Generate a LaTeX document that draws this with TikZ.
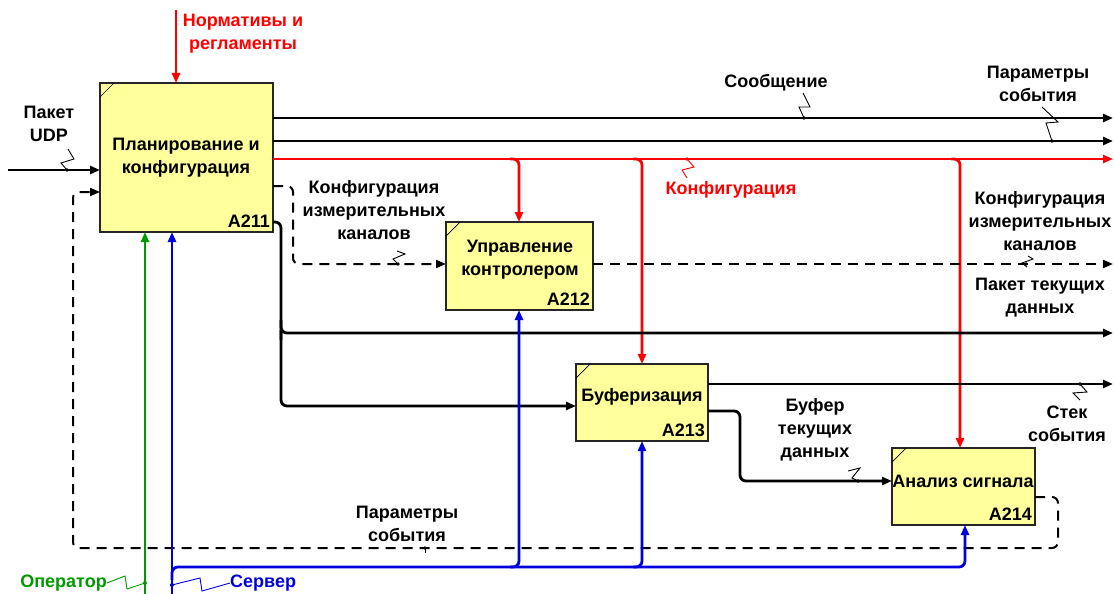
\documentclass[tikz,border=0pt]{standalone}
\usepackage{fontspec}
\setmainfont{Liberation Sans}
\usetikzlibrary{arrows.meta,calc}
\definecolor{boxfill}{HTML}{FFFF9C}
\definecolor{idefred}{HTML}{FF0000}
\definecolor{idefblue}{HTML}{0000DD}
\definecolor{idefgreen}{HTML}{009900}
\begin{document}
\begin{tikzpicture}[x=1pt,y=-1pt,
  font=\bfseries\fontsize{18}{23}\selectfont,
  box/.style={draw=black!85, line width=1.3pt, fill=boxfill, inner sep=0pt, outer sep=0pt},
  boxtext/.style={align=center, inner sep=0pt},
  boxnum/.style={anchor=south east, inner sep=0pt},
  lbl/.style={align=center, inner sep=0pt},
  tip/.style={-{Triangle[length=10pt,width=8pt]}},
  flow/.style={line width=2.8pt, rounded corners=6pt, tip},
  redflow/.style={flow, draw=idefred},
  blueflow/.style={flow, draw=idefblue},
  greenflow/.style={line width=2.2pt, draw=idefgreen, tip},
  dflow/.style={line width=2pt, dash pattern=on 10pt off 7pt, rounded corners=6pt, tip},
  squig/.style={line width=0.9pt},
  plainline/.style={line width=2.8pt, rounded corners=6pt}
]
\useasboundingbox (0,0) rectangle (1114,594);

% boxes
\node[box, minimum width=173pt, minimum height=149pt] (A211) at (186.5,157.5) {};
\node[box, minimum width=147pt, minimum height=88pt] (A212) at (519.5,266) {};
\node[box, minimum width=132pt, minimum height=77pt] (A213) at (642,402.5) {};
\node[box, minimum width=143pt, minimum height=77pt] (A214) at (963.5,486.5) {};
\foreach \b in {A211,A212,A213,A214}{
  \draw[line width=0.7pt] ($(\b.north west)+(0,14)$) -- ($(\b.north west)+(14,0)$);
}
\node[boxtext] (t211) at (186,158) {Планирование и\\конфигурация};
\node[boxtext] (t212) at (520,260) {Управление\\контролером};
\node[boxtext] (t213) at (642,397) {Буферизация};
\node[boxtext] (t214) at (963,481) {Анализ сигнала};
\node[boxnum] (n211) at ($(A211.south east)+(-3,-4)$) {A211};
\node[boxnum] (n212) at ($(A212.south east)+(-3,-4)$) {A212};
\node[boxnum] (n213) at ($(A213.south east)+(-3,-4)$) {A213};
\node[boxnum] (n214) at ($(A214.south east)+(-3,-4)$) {A214};

% labels
\node[lbl, text=idefred] (lnorm) at (243,33.5) {Нормативы и\\регламенты};
\node[lbl] (ludp) at (49,124) {Пакет\\UDP};
\node[lbl] (lmsg) at (776,83) {Сообщение};
\node[lbl] (lpar1) at (1038,84) {Параметры\\события};
\node[lbl, text=idefred] (lconf) at (731,190) {Конфигурация};
\node[lbl] (lkan1) at (374,210) {Конфигурация\\измерительных\\каналов};
\node[lbl] (lkan2) at (1040,221) {Конфигурация\\измерительных\\каналов};
\node[lbl] (lpak) at (1040,298) {Пакет текущих\\данных};
\node[lbl] (lbuf) at (815,430) {Буфер\\текущих\\данных};
\node[lbl] (lstek) at (1067,424) {Стек\\события};
\node[lbl] (lpar2) at (407,524) {Параметры\\события};
\node[lbl, text=idefgreen, anchor=east] (lop) at (107,583) {Оператор};
\node[lbl, text=idefblue, anchor=west] (lsrv) at (230,583) {Сервер};

% coordinates
\coordinate (normtop) at (176,10);
\coordinate (udpstart) at (8,170);
\coordinate (e1) at (1113,118);
\coordinate (e2) at (1113,141);
\coordinate (e3) at (1113,159);
\coordinate (e4) at (1113,264);
\coordinate (e5) at (1113,333);
\coordinate (e6) at (1113,384);
\coordinate (gbot) at (145,594);
\coordinate (bbot) at (172,594);

% control
\draw[redflow] (normtop) -- (normtop |- A211.north);
% input
\draw[flow] (udpstart) -- (udpstart -| A211.west);

% outputs of A211
\draw[flow] (A211.east |- e1) -- (e1);
\draw[flow] (A211.east |- e2) -- (e2);
\draw[redflow] (A211.east |- e3) -- (e3);
\draw[redflow] (510,159) -- (519,159) -- (519,159 |- A212.north);
\draw[redflow] (633,159) -- (642,159) -- (642,159 |- A213.north);
\draw[redflow] (951,159) -- (960,159) -- (960,159 |- A214.north);
\draw[dflow] (A211.east |- 0,186) -- (293,186) -- (293,264) -- (A212.west |- 0,264);
\draw[plainline] (A211.east |- 0,222) -- (281,222) -- (281,340);
\draw[flow] (281,320) -- (281,333) -- (e5);
\draw[flow] (281,330) -- (281,406) -- (A213.west |- 0,406);

% outputs of A212, A213
\draw[dflow] (A212.east |- e4) -- (e4);
\draw[flow] (A213.east |- e6) -- (e6);
\draw[flow] (A213.east |- 0,411) -- (740,411) -- (740,481) -- (A214.west |- 0,481);

% feedback
\draw[dflow] (A214.east |- 0,497) -- (1058,497) -- (1058,548) -- (73,548) -- (73,192) -- (A211.west |- 0,192);

% mechanisms
\draw[greenflow] (gbot) -- (gbot |- A211.south);
\draw[blueflow] (bbot) -- (bbot |- A211.south);
\draw[blueflow] (172,580) -- (172,567) -- (965,567) -- (965,567 |- A214.south);
\draw[blueflow] (510,567) -- (519,567) -- (519,567 |- A212.south);
\draw[blueflow] (633,567) -- (642,567) -- (642,567 |- A213.south);

% squiggles
\draw[squig] (803,93) -- (810,107) -- (799,107) -- (804,118);
\fill (804,118) circle (1.8);
\draw[squig] (1042,107) -- (1058,122) -- (1046,123) -- (1052,141);
\fill (1052,141) circle (1.8);
\draw[squig, idefred] (687,159) -- (694,167) -- (682,170) -- (687,178);
\fill[idefred] (687,159) circle (1.8);
\draw[squig] (68,149) -- (74,159) -- (61,163) -- (67,170);
\fill (67,170) circle (1.8);
\draw[squig] (397,251) -- (405,254) -- (393,259) -- (398,264);
\fill (398,264) circle (1.8);
\draw[squig] (1028,256) -- (1033,259) -- (1022,263) -- (1027,267);
\fill (1026,264) circle (1.8);
\draw[squig] (1080,384) -- (1087,392) -- (1073,393) -- (1080,400);
\fill (1080,384) circle (1.8);
\draw[squig] (848,471) -- (860,468) -- (852,478) -- (858,481);
\fill (858,481) circle (1.8);
\draw[squig] (425,548) -- (425,553);
\fill (425,548) circle (1.8);
\draw[squig, idefgreen] (lop.east) -- (125,576) -- (127,589) -- (145,583);
\fill[idefgreen] (145,583) circle (2);
\draw[squig, idefblue] (172,585) -- (200,578) -- (202,591) -- (lsrv.west);
\fill[idefblue] (172,585) circle (2);
\end{tikzpicture}
\end{document}
